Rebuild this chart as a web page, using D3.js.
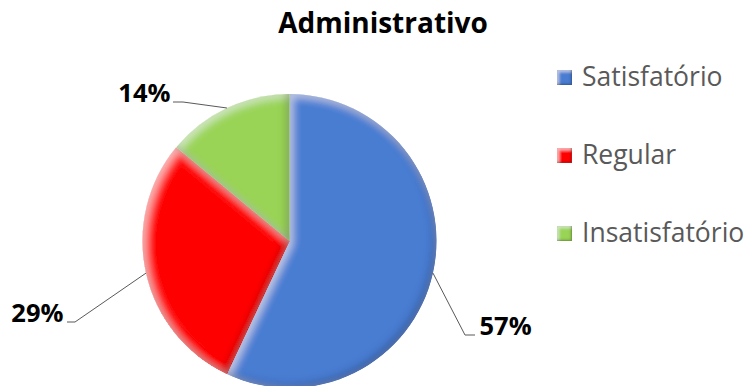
<!DOCTYPE html>
<html>
<head>
<meta charset="utf-8">
<script src="https://cdn.jsdelivr.net/npm/d3@7"></script>
<style>
  html, body { margin: 0; padding: 0; background: #fff; }
  svg { display: block; }
</style>
</head>
<body>
<svg id="chart" width="747" height="386"></svg>
<script>
// Survey results for the administrative area
const categories = ["Satisfatório", "Regular", "Insatisfatório"];
const values = [57, 29, 14];
const labels = ["57%", "29%", "14%"];
const colors = ["#4A7DD2", "#FF0000", "#9AD457"];
const chartTitle = "Administrativo";

const svg = d3.select("#chart");
const cx = 289.5, cy = 241, R = 147;

const defs = svg.append("defs");

// Emboss filter: light band on upper-left edges, dark band on lower-right edges
function addBevel(id, blur, off, lightOp, darkOp) {
  const f = defs.append("filter").attr("id", id)
    .attr("x", "-5%").attr("y", "-5%").attr("width", "110%").attr("height", "110%");
  f.append("feGaussianBlur").attr("in", "SourceAlpha").attr("stdDeviation", blur).attr("result", "blur");
  f.append("feOffset").attr("in", "blur").attr("dx", off).attr("dy", off).attr("result", "blurDR");
  f.append("feOffset").attr("in", "blur").attr("dx", -off).attr("dy", -off).attr("result", "blurUL");
  f.append("feComposite").attr("in", "SourceAlpha").attr("in2", "blurDR")
    .attr("operator", "arithmetic").attr("k2", 1).attr("k3", -1).attr("result", "edgeUL");
  f.append("feComposite").attr("in", "SourceAlpha").attr("in2", "blurUL")
    .attr("operator", "arithmetic").attr("k2", 1).attr("k3", -1).attr("result", "edgeDR");
  f.append("feFlood").attr("flood-color", "#fff").attr("flood-opacity", lightOp).attr("result", "white");
  f.append("feComposite").attr("in", "white").attr("in2", "edgeUL").attr("operator", "in").attr("result", "light");
  f.append("feFlood").attr("flood-color", "#000").attr("flood-opacity", darkOp).attr("result", "black");
  f.append("feComposite").attr("in", "black").attr("in2", "edgeDR").attr("operator", "in").attr("result", "dark");
  const m = f.append("feMerge");
  m.append("feMergeNode").attr("in", "SourceGraphic");
  m.append("feMergeNode").attr("in", "light");
  m.append("feMergeNode").attr("in", "dark");
}
addBevel("bevel", 4, 3, 0.55, 0.5);
addBevel("bevelSmall", 1.5, 1.5, 0.5, 0.55);

// Title
svg.append("text")
  .attr("x", 383).attr("y", 33)
  .attr("text-anchor", "middle")
  .attr("font-family", "'Open Sans', sans-serif")
  .attr("font-weight", "bold")
  .attr("font-size", 28)
  .attr("fill", "#000")
  .text(chartTitle);

// Pie, starting at 12 o'clock and running clockwise
const pie = d3.pie().sort(null).value(d => d)(values);
const arc = d3.arc().innerRadius(0).outerRadius(R);
const g = svg.append("g").attr("transform", `translate(${cx},${cy})`);
g.selectAll("path.slice")
  .data(pie)
  .join("path")
  .attr("class", "slice")
  .attr("d", arc)
  .attr("fill", (d, i) => colors[i])
  .attr("filter", "url(#bevel)");

// Leader lines from each slice's mid-angle on the rim to its label
const rimPoint = d => {
  const a = (d.startAngle + d.endAngle) / 2;
  return [Math.sin(a) * R, -Math.cos(a) * R];
};
const leaders = [
  { elbow: [175.5, 94], end: [185.5, 94], anchor: "start", tx: 190, ty: 94 },
  { elbow: [-214.5, 81], end: [-222.5, 81], anchor: "end", tx: -226, ty: 81 },
  { elbow: [-106.5, -139], end: [-116.5, -139], anchor: "end", tx: -119, ty: -139 }
];
leaders.forEach((s, i) => {
  const p0 = rimPoint(pie[i]);
  g.append("polyline")
    .attr("points", [p0, s.elbow, s.end].map(p => p.join(",")).join(" "))
    .attr("fill", "none")
    .attr("stroke", "#595959")
    .attr("stroke-width", 1);
  g.append("text")
    .attr("x", s.tx).attr("y", s.ty)
    .attr("text-anchor", s.anchor)
    .attr("font-family", "'Open Sans', sans-serif")
    .attr("font-weight", "bold")
    .attr("font-size", 25.5)
    .attr("fill", "#000")
    .text(labels[i]);
});

// Legend
const legendY = [77, 155, 233];
const legend = svg.append("g");
categories.forEach((c, i) => {
  legend.append("rect")
    .attr("x", 557).attr("y", legendY[i] - 7)
    .attr("width", 15).attr("height", 15)
    .attr("fill", colors[i])
    .attr("filter", "url(#bevelSmall)");
  legend.append("text")
    .attr("x", 582).attr("y", legendY[i] + 9)
    .attr("font-family", "'Open Sans', sans-serif")
    .attr("font-size", 26.5)
    .attr("fill", "#595959")
    .text(c);
});
</script>
</body>
</html>
